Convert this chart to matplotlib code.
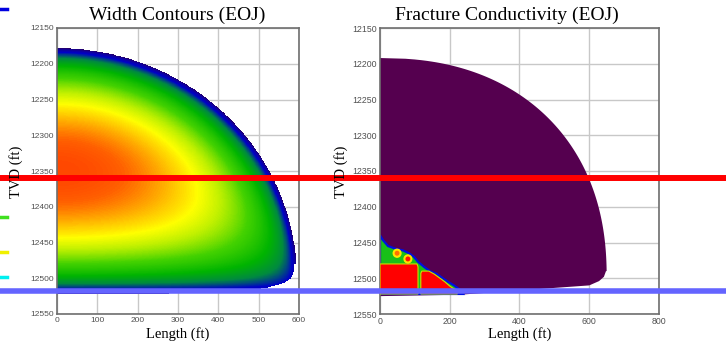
import numpy as np
import matplotlib
matplotlib.use('Agg')
import matplotlib.pyplot as plt
from matplotlib.colors import LinearSegmentedColormap
from matplotlib.lines import Line2D
from matplotlib.patches import Ellipse

# ---- dados ----
tvd_ticks = [12150, 12200, 12250, 12300, 12350, 12400, 12450, 12500, 12550]
len_ticks_w = [0, 100, 200, 300, 400, 500, 600]
len_ticks_c = [0, 200, 400, 600, 800]

# contorno da fratura (largura): elipse centrada em x=0, y=12500
w_top, w_center, w_bottom = 12178, 12500, 12522
w_len = 595            # comprimento maximo (ft)
w_corner_len = 588     # comprimento no canto inferior
w_corner_y = 12480
# degraus da borda inferior (faixa roxa abaixo da linha azul)
w_step_x = [0, 40, 156, 334, 425]
w_step_y = [12527, 12526, 12525, 12524, 12518]

# contorno da condutividade (superelipse)
c_top, c_center = 12192, 12500
c_len = 650
c_exp = 2.25
c_corner_y = 12490
c_bottom_x = [0, 230, 600, 628, 642, 648]
c_bottom_y = [12525, 12523, 12510, 12504, 12498, 12490]

# manchas na condutividade (ft, TVD)
green_x = [0, 9, 23, 46, 66, 83, 97, 109, 126, 143, 163, 180, 195, 212, 229, 238, 0]
green_y = [12440, 12447, 12455, 12459, 12461, 12465, 12470, 12477, 12484, 12490,
           12494, 12500, 12505, 12510, 12516, 12522, 12522]
red1_x = [0, 106, 109, 109, 0]
red1_y = [12480, 12480, 12484, 12522, 12522]
red2_x = [117, 120, 140, 155, 172, 186, 200, 215, 222, 117]
red2_y = [12493, 12490, 12490, 12494, 12500, 12505, 12511, 12516, 12522, 12522]
spots = [(49, 12465, '#ffe800', '#ff7000'), (80, 12473, '#ffe000', '#ff1000')]

# ---- campo de largura ----
xs = np.linspace(0, 600, 700)
ys = np.linspace(12150, 12550, 800)
X, Y = np.meshgrid(xs, ys)

b = w_center - w_top
xr = w_len * np.sqrt(np.clip(1 - ((w_center - Y) / b) ** 2, 0, None))
low = Y > w_corner_y
xr[low] = w_corner_len * np.clip(1 - ((Y[low] - w_corner_y) / 42.0) ** 4, 0, None) ** 0.25
idx = np.searchsorted(w_step_x, X, side='right') - 1
ybot = np.array(w_step_y)[idx]
mask = (X <= xr) & (Y <= ybot) & (Y >= w_top)

top = w_center - b * np.sqrt(np.clip(1 - (X / w_len) ** 2, 0, None))
top = np.maximum(top, w_top)
mid = (top + w_bottom) / 2
half = (w_bottom - top) / 2
u = (Y - mid) / np.maximum(half, 1)
W = np.clip(1 - u ** 2, 0, None) ** 0.5 * np.clip(1 - (X / w_len) ** 2, 0, None) ** 0.42
W = np.where(mask, W, np.nan)

width_cmap = LinearSegmentedColormap.from_list('width', [
    (0.0, '#30005c'), (0.12, '#16008c'), (0.26, '#0000c8'), (0.40, '#008a40'),
    (0.52, '#00b400'), (0.66, '#44d200'), (0.77, '#bef000'), (0.84, '#ffff00'),
    (0.89, '#ffcc00'), (0.93, '#ff9a00'), (0.97, '#ff6000'), (1.0, '#ff4800')])
width_cmap.set_bad((1, 1, 1, 0))

fig = plt.figure(figsize=(7.26, 3.44), dpi=100)
ax1 = fig.add_axes([57 / 726, 30 / 344, 242 / 726, 286 / 344])
ax2 = fig.add_axes([380 / 726, 30 / 344, 279 / 726, 286 / 344])

ax1.imshow(W, extent=(0, 600, 12550, 12150), origin='upper', aspect='auto',
           interpolation='nearest', cmap=width_cmap, vmin=0, vmax=1, zorder=1)

# ---- condutividade ----
bc = c_center - c_top
yy = np.linspace(c_top, c_corner_y, 300)
xx = c_len * np.clip(1 - ((c_center - yy) / bc) ** c_exp, 0, None) ** (1 / c_exp)
px = np.concatenate([[0], xx, c_bottom_x[::-1]])
py = np.concatenate([[c_top], yy, c_bottom_y[::-1]])
ax2.fill(px, py, color='#55004f', lw=0, zorder=1)
ax2.fill(green_x, green_y, facecolor='#18c018', edgecolor='#0010e0', lw=1.6, zorder=2)
ax2.fill(red1_x, red1_y, facecolor='#ff0000', edgecolor='#c8e000', lw=0.8, zorder=3)
ax2.fill(red2_x, red2_y, facecolor='#ff0000', edgecolor='#c8e000', lw=0.8, zorder=3)
for sx, sy, ring, core in spots:
    ax2.add_patch(Ellipse((sx, sy), 26, 13, facecolor=ring, edgecolor='none', zorder=3))
    ax2.add_patch(Ellipse((sx, sy), 14, 7, facecolor=core, edgecolor='none', zorder=4))

for ax, xt, xmax, fs in [(ax1, len_ticks_w, 600, 6.0), (ax2, len_ticks_c, 800, 6.3)]:
    ax.set_xlim(0, xmax)
    ax.set_ylim(12550, 12150)
    ax.set_xticks(xt)
    ax.set_yticks(tvd_ticks)
    ax.set_axisbelow(True)
    ax.grid(True, color='#c8c8c8', lw=1)
    ax.tick_params(length=0, pad=2, labelsize=fs, labelcolor='#505050')
    for lab in ax.get_xticklabels() + ax.get_yticklabels():
        lab.set_family('Liberation Sans')
    for sp in ax.spines.values():
        sp.set_color('#6e6e6e')
        sp.set_linewidth(1.2)

serif = 'Liberation Serif'
fig.text(177 / 726, 1 - 15 / 344, 'Width Contours (EOJ)', family=serif, fontsize=14,
         ha='center', va='center')
fig.text(507 / 726, 1 - 15 / 344, 'Fracture Conductivity (EOJ)', family=serif, fontsize=14,
         ha='center', va='center')
for xc in [178, 520]:
    fig.text(xc / 726, 1 - 334 / 344, 'Length (ft)', family=serif, fontsize=10.5,
             ha='center', va='center')
for xc in [16, 341]:
    fig.text(xc / 726, 1 - 172 / 344, 'TVD (ft)', family=serif, fontsize=10.5,
             ha='center', va='center', rotation=90)

# linhas horizontais sobre toda a figura
fig.add_artist(Line2D([0, 1], [1 - 178 / 344] * 2, color='#ff0000', lw=4.3,
                      transform=fig.transFigure))
fig.add_artist(Line2D([0, 1], [1 - 290.5 / 344] * 2, color='#6464ff', lw=4.0,
                      transform=fig.transFigure))

# marcas coloridas na borda esquerda
for yc, col in [(9, '#0000e0'), (216.5, '#40e020'), (252, '#f0f000'), (276.5, '#00f0f0')]:
    fig.add_artist(Line2D([0, 7 / 726], [1 - yc / 344] * 2, color=col, lw=2.5,
                          transform=fig.transFigure))

fig.savefig('out.png', dpi=100)
